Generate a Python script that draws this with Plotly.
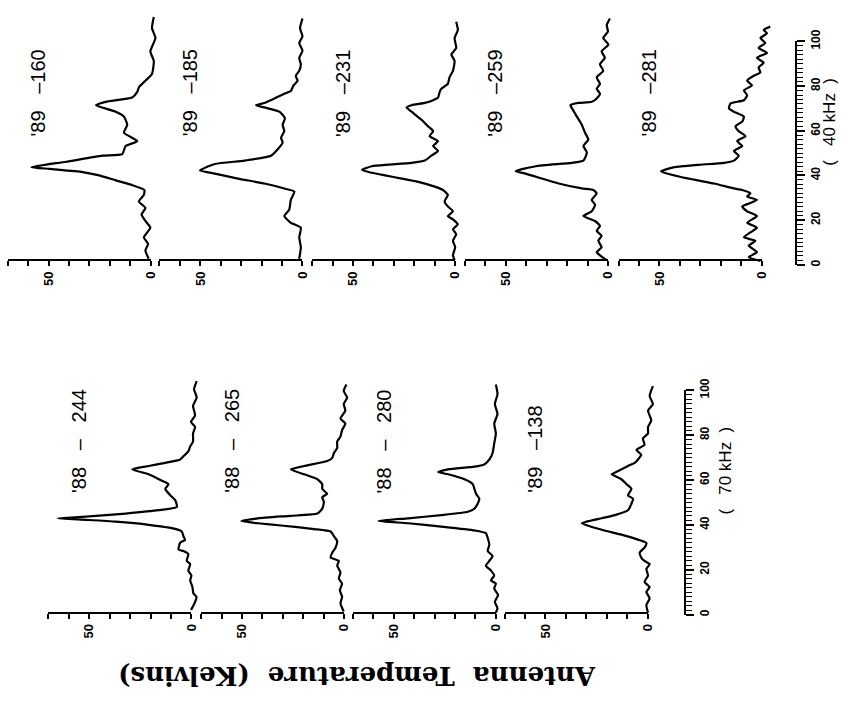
import plotly.graph_objects as go

# ---------------- data (frequency channel, antenna temperature K) ----------------
# upper band ( 40 kHz filter bank )
f_89_160 = [1.0, 4.7, 7.6, 10.5, 14.8, 17.8, 20.7, 23.6, 26.5, 29.4, 31.6, 33.8, 35.9, 38.1, 39.6, 41.0, 41.8, 44.2, 46.9, 47.6, 51.2, 53.4, 57.1, 60.7, 64.3, 66.5, 69.4, 70.9, 72.8, 75.3, 77.4, 80.3, 83.3, 89.1, 93.4, 99.3, 103.7, 108.7]
t_89_160 = [1.0, 2.6, 1.3, 3.4, 0.2, 2.6, 4.5, 2.6, 5.8, 3.4, 3.1, 9.1, 17.1, 25.2, 33.3, 49.5, 58.4, 41.4, 23.6, 13.9, 12.3, 6.6, 13.1, 11.5, 13.1, 17.1, 26.8, 22.0, 9.1, 6.6, 5.8, 2.6, -0.6, -1.5, 0.2, -2.3, -0.6, -1.5]

f_89_185 = [1.0, 6.1, 10.5, 14.8, 17.0, 20.0, 22.8, 27.2, 30.9, 32.3, 34.5, 36.7, 38.9, 40.3, 43.2, 44.7, 46.9, 49.8, 52.7, 54.9, 57.8, 60.7, 63.6, 66.5, 68.4, 69.4, 70.4, 72.4, 74.5, 75.7, 78.2, 80.3, 82.5, 84.7, 87.6, 90.5, 93.7, 97.1, 100.0, 103.7, 108.0]
t_89_185 = [1.6, 0.8, 1.6, 0.8, 5.7, 8.9, 6.5, 5.7, 4.0, 8.9, 18.6, 31.6, 42.9, 50.2, 42.9, 28.3, 15.4, 12.1, 9.7, 10.5, 8.9, 9.7, 8.6, 11.3, 18.6, 22.7, 18.6, 13.7, 8.9, 5.7, 4.4, 2.4, 3.3, 1.6, 0.8, 1.6, 0.0, 1.6, 0.0, 1.2, 0.0]

f_89_231 = [0.3, 2.5, 6.1, 9.0, 11.9, 14.1, 16.3, 18.5, 20.0, 22.1, 24.3, 26.5, 29.4, 31.6, 33.1, 35.2, 36.7, 38.1, 39.6, 40.6, 42.2, 42.9, 43.7, 44.7, 46.9, 49.0, 51.2, 53.4, 55.6, 57.8, 60.0, 62.9, 66.5, 68.4, 69.4, 70.4, 71.6, 72.8, 75.3, 76.7, 78.9, 81.8, 84.7, 89.1, 92.0, 94.9, 99.3, 102.9, 106.6]
t_89_231 = [0.3, 1.1, 0.0, 1.1, -0.5, 1.1, -1.3, 1.1, 3.6, 1.1, 3.6, 5.2, 3.6, 6.0, 10.0, 18.1, 26.2, 34.3, 42.4, 45.6, 40.8, 32.7, 21.4, 14.9, 11.7, 8.4, 10.8, 8.4, 12.5, 10.8, 13.3, 16.5, 21.4, 23.8, 21.4, 14.9, 10.8, 8.4, 7.6, 6.8, 3.6, 2.8, 1.1, 0.3, 1.9, -0.5, 0.3, -1.3, -0.5]

f_89_259 = [0.3, 2.5, 3.9, 6.1, 9.0, 11.2, 13.4, 15.6, 17.8, 20.0, 22.1, 25.0, 27.2, 30.1, 31.6, 32.3, 34.5, 36.7, 38.9, 40.0, 42.2, 43.7, 44.7, 48.3, 51.2, 54.1, 57.1, 60.7, 64.3, 68.0, 69.4, 70.4, 70.9, 72.4, 74.5, 76.7, 78.9, 81.8, 84.7, 87.6, 90.5, 93.4, 96.4, 99.3, 102.2, 105.1, 108.0]
t_89_259 = [0.6, 3.9, 5.5, 3.1, 4.7, 3.1, 5.5, 3.9, 6.3, 12.0, 7.9, 6.3, 7.9, 5.5, 7.1, 12.8, 24.1, 32.2, 40.3, 45.1, 35.4, 17.6, 12.0, 10.3, 12.0, 9.6, 11.2, 12.8, 15.2, 17.6, 18.4, 14.4, 7.9, 5.5, 3.9, 5.5, 3.9, 5.5, 2.3, 3.9, 1.5, 3.1, -0.2, 2.3, 0.0, 0.6, -1.0]

f_89_281 = [0.0, 1.7, 3.9, 6.8, 9.0, 10.5, 12.7, 14.8, 17.0, 20.0, 22.1, 24.3, 25.8, 27.2, 28.7, 30.1, 31.6, 32.3, 34.5, 35.9, 37.4, 39.9, 41.8, 42.8, 43.7, 44.7, 46.9, 49.0, 51.2, 53.4, 55.6, 57.8, 60.0, 62.1, 64.3, 66.5, 68.0, 70.2, 71.6, 73.8, 76.0, 78.2, 80.3, 82.5, 84.0, 86.2, 88.3, 90.5, 92.7, 94.9, 97.1, 99.3, 101.5, 102.9, 104.4]
t_89_281 = [0.6, 6.3, 2.3, 6.3, 3.1, 8.7, 5.5, 2.3, 7.1, 2.3, 7.1, 9.5, 5.5, 2.3, 7.1, 5.5, 9.5, 13.6, 23.3, 31.4, 39.5, 49.2, 42.7, 31.4, 18.4, 13.6, 11.2, 13.6, 9.5, 12.0, 7.9, 11.2, 12.8, 9.5, 8.7, 13.6, 16.0, 15.2, 8.7, 7.1, 8.7, 4.7, 7.1, 3.9, 0.6, 1.5, -1.0, 2.3, -2.6, 1.5, -1.8, 0.6, -2.6, -1.0, -4.2]

# lower band ( 70 kHz filter bank )
f_88_244 = [1.3, 4.2, 7.1, 8.6, 11.5, 14.4, 16.6, 18.8, 21.7, 23.1, 26.1, 27.5, 28.2, 31.2, 32.5, 34.1, 36.2, 37.4, 39.2, 40.6, 41.4, 42.1, 42.8, 44.2, 45.7, 47.2, 50.1, 52.3, 55.2, 57.3, 58.8, 61.7, 63.9, 65.4, 66.8, 68.3, 69.7, 71.9, 74.1, 76.3, 79.9, 82.8, 85.0, 87.9, 92.2, 95.9, 99.6, 103.2]
t_88_244 = [0.2, -1.5, -2.5, -1.0, -0.5, 0.6, 0.0, 1.5, 0.6, 2.3, 1.5, 3.9, 6.3, 5.5, 3.1, 3.9, 4.7, 7.9, 20.9, 37.0, 51.6, 65.4, 51.6, 32.2, 16.0, 7.1, 7.9, 10.3, 12.8, 11.2, 14.4, 20.9, 29.0, 20.9, 12.8, 5.5, 3.9, 1.5, 0.6, -0.8, -0.8, -1.8, 0.2, -1.8, -0.8, -2.6, -1.3, -2.6]

f_88_265 = [0.6, 4.2, 7.1, 10.0, 13.0, 15.2, 18.0, 21.0, 23.1, 24.6, 26.8, 29.0, 31.9, 34.1, 36.2, 37.3, 38.9, 39.9, 40.9, 42.1, 43.2, 44.2, 46.4, 49.3, 51.5, 53.0, 55.2, 57.3, 59.5, 61.7, 63.9, 65.4, 67.6, 69.0, 71.2, 73.4, 76.3, 78.5, 81.4, 84.3, 86.5, 90.1, 93.0, 95.9, 98.8, 101.7]
t_88_265 = [0.2, 1.8, 1.0, 2.1, 1.0, 2.6, 1.8, 3.4, 2.6, 6.6, 5.8, 4.2, 3.4, 5.0, 6.6, 14.7, 30.9, 42.2, 50.3, 42.2, 26.1, 13.1, 10.7, 9.9, 10.7, 8.3, 10.7, 10.7, 13.1, 19.6, 26.1, 19.6, 8.3, 5.8, 5.0, 3.4, 3.4, 1.8, 1.0, -0.6, 1.8, -0.6, 0.2, -1.5, 0.2, -1.1]

f_88_280 = [0.0, 2.0, 4.9, 7.9, 10.8, 13.0, 14.4, 16.6, 18.8, 21.0, 23.1, 25.3, 27.5, 30.4, 33.3, 35.5, 36.7, 38.4, 39.9, 40.9, 42.1, 43.5, 45.0, 46.4, 48.6, 50.8, 53.0, 55.2, 57.3, 59.5, 61.7, 62.7, 63.9, 65.1, 66.1, 68.3, 71.2, 75.5, 79.9, 84.3, 88.6, 93.0, 97.4, 101.7]
t_88_280 = [0.0, -0.8, 0.5, -1.1, 0.8, 0.0, 2.4, 0.8, 2.4, 4.9, 3.2, 1.6, 4.0, 3.2, 4.0, 4.9, 10.5, 26.7, 42.9, 57.4, 42.9, 26.7, 13.7, 10.5, 8.9, 8.1, 9.7, 10.5, 11.3, 15.4, 23.4, 28.3, 23.4, 10.5, 5.7, 3.2, 1.6, 0.8, 0.0, 0.8, -0.8, 0.5, -0.8, 0.0]

f_89_138 = [0.0, 3.5, 6.4, 9.3, 11.5, 13.7, 16.6, 19.5, 21.7, 23.1, 24.6, 26.8, 29.0, 31.1, 32.6, 34.8, 37.0, 39.9, 42.1, 43.5, 45.7, 48.6, 50.8, 52.3, 55.2, 57.3, 59.5, 61.0, 61.7, 63.2, 65.4, 66.8, 68.3, 70.4, 72.6, 74.8, 77.7, 79.9, 82.8, 85.7, 90.1, 93.0, 96.6, 101.0]
t_89_138 = [-0.2, 0.6, -1.0, 0.6, -1.0, 1.5, -0.2, 0.6, -1.0, 1.5, 3.1, 3.9, 1.5, 0.6, 4.7, 12.8, 22.5, 32.2, 22.5, 16.0, 9.6, 7.9, 7.1, 9.6, 7.9, 10.3, 12.8, 16.0, 17.6, 14.4, 9.6, 6.3, 4.7, 3.1, 5.5, 1.5, 2.3, -0.2, -0.2, -1.8, -0.2, -2.6, -1.0, -2.6]

top_labels = ["'89   –160", "'89   –185", "'89   –231", "'89   –259", "'89   –281"]
bot_labels = ["'88   –   244", "'88   –   265", "'88   –   280", "'89   –138"]
top_freqs = [f_89_160, f_89_185, f_89_231, f_89_259, f_89_281]
top_temps = [t_89_160, t_89_185, t_89_231, t_89_259, t_89_281]
bot_freqs = [f_88_244, f_88_265, f_88_280, f_89_138]
bot_temps = [t_88_244, t_88_265, t_88_280, t_89_138]

temp_ticks = [0, 10, 20, 30, 40, 50, 60, 70]
temp_ticktext = ["0", "", "", "", "", "50", "", ""]
chan_ticks = [0, 20, 40, 60, 80, 100]
chan_ticktext = ["0", "20", "40", "60", "80", "100"]
top_unit = "( 40 kHz )"
bot_unit = "( 70 kHz )"
y_title = "Antenna  Temperature  (Kelvins)"

# ---------------- layout geometry (pixels of the target picture) ----------------
W, H = 846, 702
PXK = 2.06      # px per Kelvin
PXC = 2.29      # px per channel
TMAX = 70
EXT = 14        # px of room right of T=0 for the traces
TOP_X0 = [152, 305, 459, 613, 768]
BOT_X0 = [193, 347, 500, 653]
TOP_BASE, TOP_TOP, TOP_AXIS = 254, 0, 253.5
BOT_BASE, BOT_TOP, BOT_AXIS = 613, 356, 613


def clamp(v):
    return min(1.0, max(0.0, v))


def px(x):
    return clamp(x / W)


def py(y):
    return clamp(1 - y / H)


fig = go.Figure()
layout = dict(width=W, height=H, autosize=False,
              margin=dict(l=0, r=0, t=0, b=0),
              paper_bgcolor="white", plot_bgcolor="rgba(0,0,0,0)",
              showlegend=False)
annotations = []
counter = [0]


def nb(s):
    return s.replace(" ", "\u00a0")


def new_id():
    counter[0] += 1
    n = counter[0]
    return ("" if n == 1 else str(n))


def add_panel(x0, base, top, axis_y, F, T, label, label_F):
    # data axes (invisible)
    d = new_id()
    layout["xaxis" + d] = dict(domain=[px(x0 - TMAX * PXK), px(x0 + EXT)],
                               range=[TMAX, -EXT / PXK], visible=False,
                               anchor="y" + d, fixedrange=True)
    layout["yaxis" + d] = dict(domain=[py(base + 2 * PXC), py(top)],
                               range=[-2, (base - top) / PXC], visible=False,
                               anchor="x" + d, fixedrange=True)
    fig.add_trace(go.Scatter(x=T, y=F, mode="lines", xaxis="x" + d, yaxis="y" + d,
                             line=dict(color="black", width=2.2, shape="spline", smoothing=0.5),
                             hoverinfo="skip"))
    annotations.append(dict(x=55, y=label_F, xref="x" + d, yref="y" + d,
                            text=nb(label), textangle=-90, showarrow=False,
                            xanchor="center", yanchor="bottom",
                            font=dict(family="Liberation Sans", size=20, color="black")))
    # visible temperature axis
    a = new_id()
    layout["xaxis" + a] = dict(domain=[px(x0 - TMAX * PXK), px(x0)], range=[TMAX, 0],
                               anchor="free", position=py(axis_y),
                               showline=True, linecolor="black", linewidth=2,
                               ticks="outside", ticklen=5, tickwidth=1.5, tickcolor="black",
                               tickvals=temp_ticks, ticktext=temp_ticktext, tickangle=-90,
                               tickfont=dict(family="Liberation Sans", size=13, color="black", weight="bold"),
                               showgrid=False, zeroline=False, fixedrange=True)
    layout["yaxis" + a] = dict(domain=[py(base + 2 * PXC), py(top)],
                               range=[-2, (base - top) / PXC], visible=False,
                               anchor="x" + a, fixedrange=True)
    fig.add_trace(go.Scatter(x=[None], y=[None], xaxis="x" + a, yaxis="y" + a,
                             mode="lines", hoverinfo="skip"))


def add_ruler(xline, y0px, y100px, unit, unit_x, unit_y):
    r = new_id()
    layout["xaxis" + r] = dict(domain=[px(xline - 20), px(xline)], range=[0, 1],
                               visible=False, anchor="y" + r, fixedrange=True)
    layout["yaxis" + r] = dict(domain=[py(y0px), py(y100px)], range=[0, 100],
                               anchor="free", position=px(xline), side="right",
                               showline=True, linecolor="black", linewidth=2,
                               ticks="outside", ticklen=8, tickwidth=1.5, tickcolor="black",
                               tickvals=chan_ticks, ticktext=chan_ticktext, tickangle=-90,
                               tickfont=dict(family="Liberation Sans", size=12, color="black", weight="bold"),
                               minor=dict(dtick=2, tick0=0, ticks="outside", ticklen=6,
                                          tickwidth=1, tickcolor="black", showgrid=False),
                               showgrid=False, zeroline=False, fixedrange=True)
    fig.add_trace(go.Scatter(x=[None], y=[None], xaxis="x" + r, yaxis="y" + r,
                             mode="lines", hoverinfo="skip"))
    annotations.append(dict(x=px(unit_x), y=py(unit_y), xref="paper", yref="paper",
                            text=nb(unit.replace("( ", "(   ").replace(" kHz )", " kHz  )")),
                            textangle=-90, showarrow=False,
                            xanchor="center", yanchor="middle",
                            font=dict(family="Liberation Sans", size=17, color="black")))


for x0, F, T, lab in zip(TOP_X0, top_freqs, top_temps, top_labels):
    add_panel(x0, TOP_BASE, TOP_TOP, TOP_AXIS, F, T, lab, 54.5)
for x0, F, T, lab in zip(BOT_X0, bot_freqs, bot_temps, bot_labels):
    add_panel(x0, BOT_BASE, BOT_TOP, BOT_AXIS, F, T, lab, 52.5)

add_ruler(803, 258, 30, top_unit, 837, 112)
add_ruler(691, 615, 386, bot_unit, 732, 468)

annotations.append(dict(x=px(360), y=py(677), xref="paper", yref="paper",
                        text=nb(y_title), textangle=180, showarrow=False,
                        xanchor="center", yanchor="middle",
                        font=dict(family="DejaVu Serif", size=26, color="black", weight="bold")))

layout["annotations"] = annotations
fig.update_layout(**layout)
fig.write_html("out.html", config={"displayModeBar": False},
               post_script="document.body.style.margin='0';document.body.style.overflow='hidden';")
